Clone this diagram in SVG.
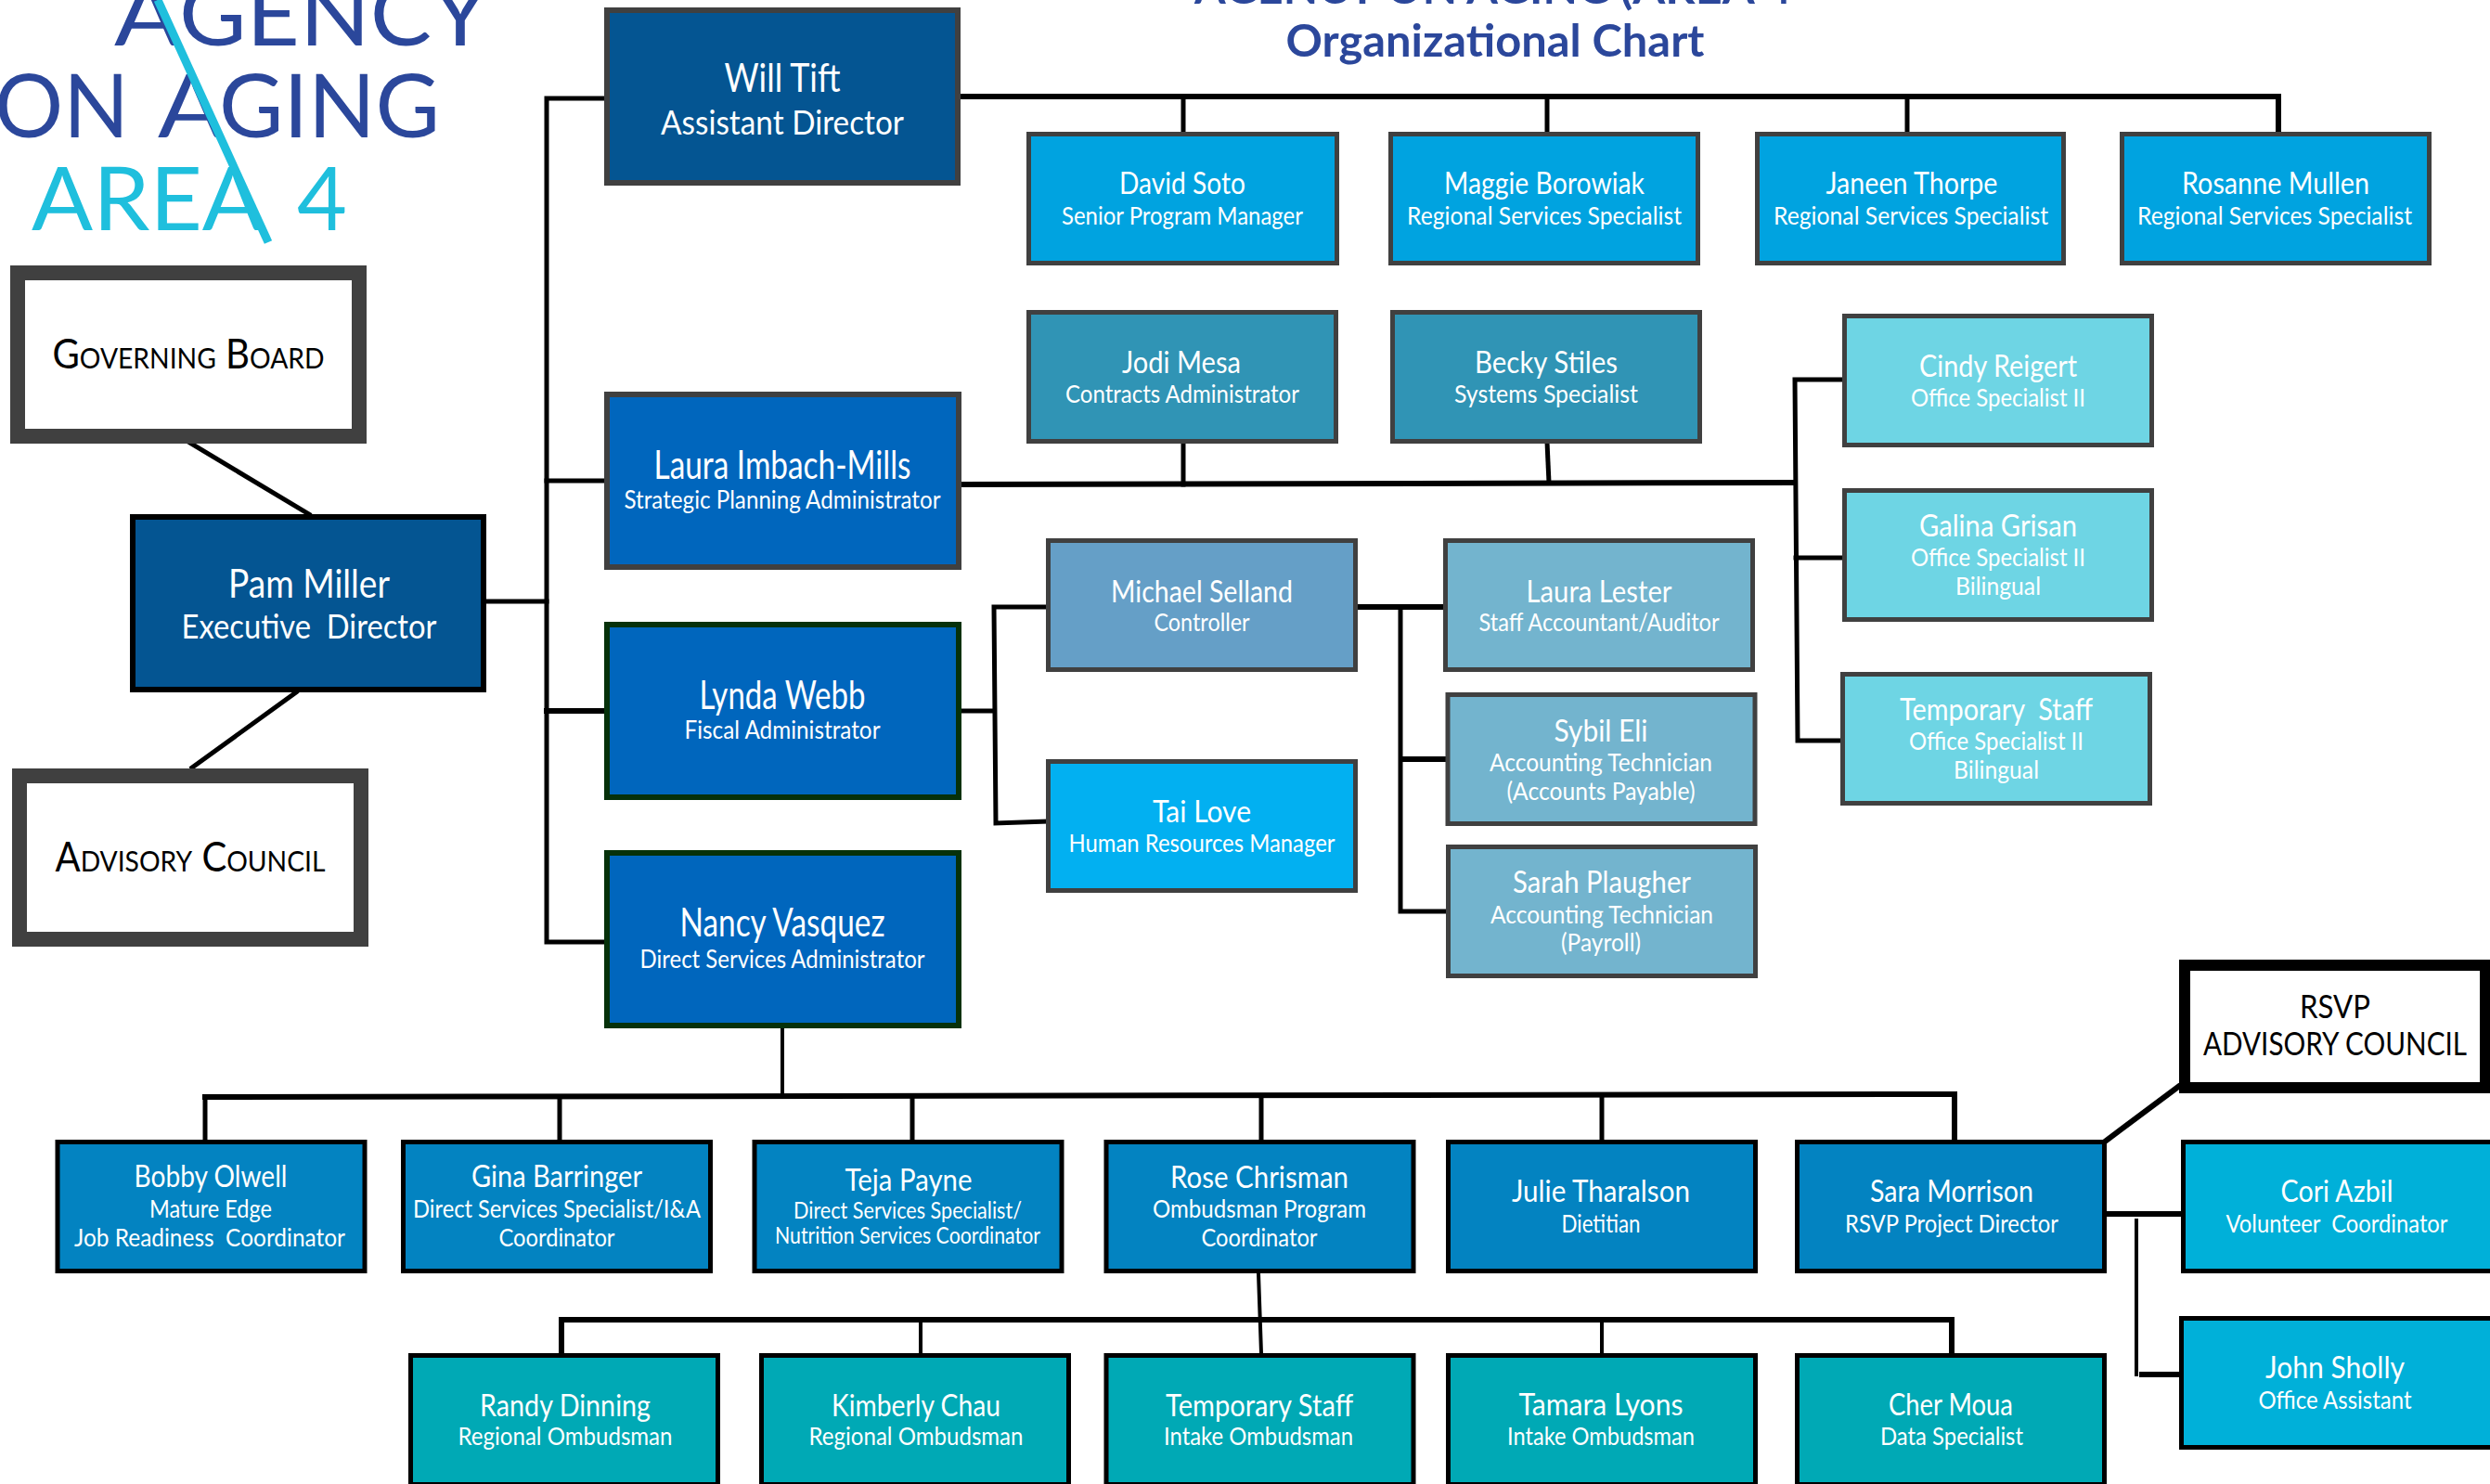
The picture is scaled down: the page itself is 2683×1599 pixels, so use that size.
<svg xmlns="http://www.w3.org/2000/svg" width="2683" height="1599" viewBox="0 0 2683 1599">
<style>
text{font-family:Lato,"Open Sans","Liberation Sans",sans-serif;text-anchor:middle;fill:#fff;white-space:pre}
.n{font-size:33px}.s{font-size:26.500px}.ss{font-size:25px}
.N{font-size:43px}.S{font-size:36px}.S2{font-size:27px}
.k{fill:#000}
.sc{font-size:44px;font-variant:small-caps}
.rs{font-size:34px}
.title{font-size:48px;font-weight:700;fill:#2b479b}
.lg{font-size:95px;text-anchor:start}
.b{fill:#2b479b}.c{fill:#1fbfdd}
.g6{stroke:#404040;stroke-width:6}
.g5{stroke:#404040;stroke-width:5}
.d6{stroke:#06310a;stroke-width:6}
.k6{stroke:#000;stroke-width:6}
.k5{stroke:#000;stroke-width:5}
.wb{fill:#fff;stroke:#404040;stroke-width:16}
.f1{fill:#045592}.f2{fill:#0066bd}.f3{fill:#00a3e0}.f4{fill:#3094b5}.f5{fill:#6ed5e4}.f6{fill:#659fc7}.f7{fill:#02b0f1}.f8{fill:#73b4ce}.f9{fill:#0383c1}.f10{fill:#00a9b5}.f11{fill:#00b0d9}
#connectors path{fill:none;stroke:#000;stroke-width:5;stroke-linecap:square}
#connectors path.t{stroke-width:6}
#connectors path.th{stroke-width:4}
</style>
<defs><clipPath id="leftOfSlash"><path d="M0 -10H165L289 261H-10V-10Z"/></clipPath></defs>

<g id="logo">
<g clip-path="url(#leftOfSlash)">
<text class="lg b" x="123" y="49" textLength="72" lengthAdjust="spacingAndGlyphs">A</text>
<text class="lg b" x="170" y="148" textLength="72" lengthAdjust="spacingAndGlyphs">A</text>
</g>
<text class="lg b" x="193" y="49" textLength="334" lengthAdjust="spacingAndGlyphs">GENCY</text>
<text class="lg b" x="-6" y="148" textLength="145" lengthAdjust="spacingAndGlyphs">ON</text>
<text class="lg b" x="236" y="148" textLength="238" lengthAdjust="spacingAndGlyphs">GING</text>
<text class="lg c" x="34" y="248" textLength="250" lengthAdjust="spacingAndGlyphs">AREA</text>
<text class="lg c" x="320" y="248" textLength="54" lengthAdjust="spacingAndGlyphs">4</text>
<path d="M170 0L289 261" fill="none" stroke="#1fbfdd" stroke-width="9"/>
</g>

<g id="title">
<text class="title" x="1511" y="4" textLength="448" lengthAdjust="spacingAndGlyphs">AGENCY ON AGING</text>
<text class="title" x="1838" y="4" textLength="185" lengthAdjust="spacingAndGlyphs">(AREA 4</text>
<text class="title" x="1611" y="61" textLength="451" lengthAdjust="spacingAndGlyphs">Organizational Chart</text>
</g>

<g id="connectors">
<path d="M201 475L333 554"/>
<path d="M319 746L207 827"/>
<path d="M524 648H589"/>
<path d="M650 106H589V1015H650"/>
<path d="M589 518H650"/>
<path class="t" d="M589 766H650"/>
<path class="t" d="M1032 104H2455V142"/>
<path d="M1275 108V142"/>
<path d="M1667 108V142"/>
<path d="M2055 108V142"/>
<path class="t" d="M1036 522L1934 520"/>
<path d="M1275 478V522"/>
<path d="M1667 476L1669 520"/>
<path d="M1985 409H1934L1937 798H1983"/>
<path d="M1935 601H1985"/>
<path d="M1036 766H1071"/>
<path d="M1127 654H1071L1073 887L1127 885"/>
<path class="t" d="M1463 654H1555"/>
<path d="M1509 654V982H1558"/>
<path class="t" d="M1513 818H1557"/>
<path class="th" d="M843 1108V1180"/>
<path class="t" d="M221 1182L2106 1179V1228"/>
<path d="M221 1182V1228"/>
<path d="M603 1182V1228"/>
<path d="M983 1181V1228"/>
<path d="M1359 1181V1228"/>
<path d="M1726 1180V1228"/>
<path class="th" d="M1356 1372L1359 1458"/>
<path class="t" d="M605 1458V1422H2103V1458"/>
<path class="th" d="M992 1422V1458"/>
<path class="th" d="M1726 1422V1458"/>
<path class="t" d="M2347 1171L2268 1230"/>
<path class="t" d="M2270 1308H2350"/>
<path class="th" d="M2302 1315V1481"/>
<path class="t" d="M2308 1481H2348"/>
</g>

<g id="governing-board"><rect class="wb" x="19" y="294" width="368" height="176"/>
<text class="sc k" x="203" y="397" textLength="293" lengthAdjust="spacingAndGlyphs">Governing Board</text></g>
<g id="advisory-council"><rect class="wb" x="21" y="836" width="368" height="176"/>
<text class="sc k" x="205" y="939" textLength="291" lengthAdjust="spacingAndGlyphs">Advisory Council</text></g>

<g id="pam-miller"><rect class="f1 k6" x="143" y="557" width="378" height="186"/>
<text class="N" x="333" y="644" textLength="174" lengthAdjust="spacingAndGlyphs">Pam Miller</text>
<text class="S" x="333" y="688" textLength="275" lengthAdjust="spacingAndGlyphs">Executive  Director</text></g>

<g id="will-tift"><rect class="f1 g6" x="654" y="11" width="378" height="186"/>
<text class="N" x="843" y="99" textLength="125" lengthAdjust="spacingAndGlyphs">Will Tift</text>
<text class="S" x="843" y="145" textLength="262" lengthAdjust="spacingAndGlyphs">Assistant Director</text></g>
<g id="laura-imbach-mills"><rect class="f2 g6" x="654" y="425" width="379" height="186"/>
<text class="N" x="843" y="516" textLength="277" lengthAdjust="spacingAndGlyphs">Laura Imbach-Mills</text>
<text class="S2" x="843" y="548" textLength="341" lengthAdjust="spacingAndGlyphs">Strategic Planning Administrator</text></g>
<g id="lynda-webb"><rect class="f2 d6" x="654" y="673" width="379" height="186"/>
<text class="N" x="843" y="764" textLength="179" lengthAdjust="spacingAndGlyphs">Lynda Webb</text>
<text class="S2" x="843" y="796" textLength="211" lengthAdjust="spacingAndGlyphs">Fiscal Administrator</text></g>
<g id="nancy-vasquez"><rect class="f2 d6" x="654" y="919" width="379" height="186"/>
<text class="N" x="843" y="1009" textLength="221" lengthAdjust="spacingAndGlyphs">Nancy Vasquez</text>
<text class="S2" x="843" y="1043" textLength="307" lengthAdjust="spacingAndGlyphs">Direct Services Administrator</text></g>

<g id="david-soto"><rect class="f3 g5" x="1108.500" y="144.500" width="332" height="139"/>
<text class="n" x="1274" y="209" textLength="136" lengthAdjust="spacingAndGlyphs">David Soto</text>
<text class="s" x="1274" y="242" textLength="260" lengthAdjust="spacingAndGlyphs">Senior Program Manager</text></g>
<g id="maggie-borowiak"><rect class="f3 g5" x="1498.500" y="144.500" width="331" height="139"/>
<text class="n" x="1664" y="209" textLength="216" lengthAdjust="spacingAndGlyphs">Maggie Borowiak</text>
<text class="s" x="1664" y="242" textLength="296" lengthAdjust="spacingAndGlyphs">Regional Services Specialist</text></g>
<g id="janeen-thorpe"><rect class="f3 g5" x="1893.500" y="144.500" width="330" height="139"/>
<text class="n" x="2060" y="209" textLength="185" lengthAdjust="spacingAndGlyphs">Janeen Thorpe</text>
<text class="s" x="2059" y="242" textLength="296" lengthAdjust="spacingAndGlyphs">Regional Services Specialist</text></g>
<g id="rosanne-mullen"><rect class="f3 g5" x="2286.500" y="144.500" width="331" height="139"/>
<text class="n" x="2452" y="209" textLength="202" lengthAdjust="spacingAndGlyphs">Rosanne Mullen</text>
<text class="s" x="2451" y="242" textLength="296" lengthAdjust="spacingAndGlyphs">Regional Services Specialist</text></g>

<g id="jodi-mesa"><rect class="f4 g5" x="1108.500" y="336.500" width="331" height="139"/>
<text class="n" x="1273" y="402" textLength="128" lengthAdjust="spacingAndGlyphs">Jodi Mesa</text>
<text class="s" x="1274" y="434" textLength="252" lengthAdjust="spacingAndGlyphs">Contracts Administrator</text></g>
<g id="becky-stiles"><rect class="f4 g5" x="1500.500" y="336.500" width="331" height="139"/>
<text class="n" x="1666" y="402" textLength="154" lengthAdjust="spacingAndGlyphs">Becky Stiles</text>
<text class="s" x="1666" y="434" textLength="198" lengthAdjust="spacingAndGlyphs">Systems Specialist</text></g>

<g id="cindy-reigert"><rect class="f5 g5" x="1987.500" y="340.500" width="331" height="139"/>
<text class="n" x="2153" y="406" textLength="170" lengthAdjust="spacingAndGlyphs">Cindy Reigert</text>
<text class="s" x="2153" y="438" textLength="188" lengthAdjust="spacingAndGlyphs">Office Specialist II</text></g>
<g id="galina-grisan"><rect class="f5 g5" x="1987.500" y="528.500" width="331" height="139"/>
<text class="n" x="2153" y="578" textLength="170" lengthAdjust="spacingAndGlyphs">Galina Grisan</text>
<text class="s" x="2153" y="610" textLength="188" lengthAdjust="spacingAndGlyphs">Office Specialist II</text>
<text class="s" x="2153" y="641" textLength="92" lengthAdjust="spacingAndGlyphs">Bilingual</text></g>
<g id="temporary-staff-office"><rect class="f5 g5" x="1985.500" y="726.500" width="331" height="139"/>
<text class="n" x="2151" y="776" textLength="208" lengthAdjust="spacingAndGlyphs">Temporary  Staff</text>
<text class="s" x="2151" y="808" textLength="188" lengthAdjust="spacingAndGlyphs">Office Specialist II</text>
<text class="s" x="2151" y="839" textLength="92" lengthAdjust="spacingAndGlyphs">Bilingual</text></g>

<g id="michael-selland"><rect class="f6 g5" x="1129.500" y="582.500" width="331" height="139"/>
<text class="n" x="1295" y="649" textLength="196" lengthAdjust="spacingAndGlyphs">Michael Selland</text>
<text class="s" x="1295" y="680" textLength="103" lengthAdjust="spacingAndGlyphs">Controller</text></g>
<g id="tai-love"><rect class="f7 g5" x="1129.500" y="820.500" width="331" height="139"/>
<text class="n" x="1295" y="886" textLength="106" lengthAdjust="spacingAndGlyphs">Tai Love</text>
<text class="s" x="1295" y="918" textLength="287" lengthAdjust="spacingAndGlyphs">Human Resources Manager</text></g>
<g id="laura-lester"><rect class="f8 g5" x="1557.500" y="582.500" width="331" height="139"/>
<text class="n" x="1723" y="649" textLength="157" lengthAdjust="spacingAndGlyphs">Laura Lester</text>
<text class="s" x="1723" y="680" textLength="259" lengthAdjust="spacingAndGlyphs">Staff Accountant/Auditor</text></g>
<g id="sybil-eli"><rect class="f8 g5" x="1560" y="748.500" width="331" height="139"/>
<text class="n" x="1725" y="799" textLength="101" lengthAdjust="spacingAndGlyphs">Sybil Eli</text>
<text class="s" x="1725" y="831" textLength="240" lengthAdjust="spacingAndGlyphs">Accounting Technician</text>
<text class="s" x="1725" y="862" textLength="203" lengthAdjust="spacingAndGlyphs">(Accounts Payable)</text></g>
<g id="sarah-plaugher"><rect class="f8 g5" x="1560.500" y="912.500" width="331" height="139"/>
<text class="n" x="1726" y="962" textLength="192" lengthAdjust="spacingAndGlyphs">Sarah Plaugher</text>
<text class="s" x="1726" y="995" textLength="240" lengthAdjust="spacingAndGlyphs">Accounting Technician</text>
<text class="s" x="1725" y="1025" textLength="86" lengthAdjust="spacingAndGlyphs">(Payroll)</text></g>

<g id="bobby-olwell"><rect class="f9 k5" x="62" y="1230.500" width="331" height="139"/>
<text class="n" x="227" y="1279" textLength="165" lengthAdjust="spacingAndGlyphs">Bobby Olwell</text>
<text class="s" x="227" y="1312" textLength="132" lengthAdjust="spacingAndGlyphs">Mature Edge</text>
<text class="s" x="226" y="1343" textLength="292" lengthAdjust="spacingAndGlyphs">Job Readiness  Coordinator</text></g>
<g id="gina-barringer"><rect class="f9 k5" x="434.500" y="1230.500" width="331" height="139"/>
<text class="n" x="600" y="1279" textLength="184" lengthAdjust="spacingAndGlyphs">Gina Barringer</text>
<text class="s" x="600" y="1312" textLength="310" lengthAdjust="spacingAndGlyphs">Direct Services Specialist/I&amp;A</text>
<text class="s" x="600" y="1343" textLength="125" lengthAdjust="spacingAndGlyphs">Coordinator</text></g>
<g id="teja-payne"><rect class="f9 k5" x="813" y="1230.500" width="331" height="139"/>
<text class="n" x="979" y="1283" textLength="137" lengthAdjust="spacingAndGlyphs">Teja Payne</text>
<text class="ss" x="978" y="1313" textLength="246" lengthAdjust="spacingAndGlyphs">Direct Services Specialist/</text>
<text class="ss" x="978" y="1340" textLength="286" lengthAdjust="spacingAndGlyphs">Nutrition Services Coordinator</text></g>
<g id="rose-chrisman"><rect class="f9 k5" x="1192" y="1230.500" width="331" height="139"/>
<text class="n" x="1357" y="1280" textLength="192" lengthAdjust="spacingAndGlyphs">Rose Chrisman</text>
<text class="s" x="1357" y="1312" textLength="230" lengthAdjust="spacingAndGlyphs">Ombudsman Program</text>
<text class="s" x="1357" y="1343" textLength="125" lengthAdjust="spacingAndGlyphs">Coordinator</text></g>
<g id="julie-tharalson"><rect class="f9 k5" x="1560.500" y="1230.500" width="331" height="139"/>
<text class="n" x="1725" y="1295" textLength="192" lengthAdjust="spacingAndGlyphs">Julie Tharalson</text>
<text class="s" x="1725" y="1328" textLength="85" lengthAdjust="spacingAndGlyphs">Dietitian</text></g>
<g id="sara-morrison"><rect class="f9 k5" x="1936.500" y="1230.500" width="331" height="139"/>
<text class="n" x="2103" y="1295" textLength="176" lengthAdjust="spacingAndGlyphs">Sara Morrison</text>
<text class="s" x="2103" y="1328" textLength="230" lengthAdjust="spacingAndGlyphs">RSVP Project Director</text></g>
<g id="cori-azbil"><rect class="f11 k5" x="2352.500" y="1230.500" width="335" height="139"/>
<text class="n" x="2518" y="1295" textLength="121" lengthAdjust="spacingAndGlyphs">Cori Azbil</text>
<text class="s" x="2518" y="1328" textLength="239" lengthAdjust="spacingAndGlyphs">Volunteer  Coordinator</text></g>
<g id="john-sholly"><rect class="f11 k5" x="2350.500" y="1420.500" width="335" height="139"/>
<text class="n" x="2516" y="1485" textLength="150" lengthAdjust="spacingAndGlyphs">John Sholly</text>
<text class="s" x="2516" y="1518" textLength="165" lengthAdjust="spacingAndGlyphs">Office Assistant</text></g>
<g id="rsvp-advisory-council"><rect x="2354" y="1040" width="324" height="132" fill="#fff" stroke="#000" stroke-width="12"/>
<text class="rs k" x="2516" y="1097" textLength="76" lengthAdjust="spacingAndGlyphs">RSVP</text>
<text class="rs k" x="2516" y="1137" textLength="284" lengthAdjust="spacingAndGlyphs">ADVISORY COUNCIL</text></g>

<g id="randy-dinning"><rect class="f10 k5" x="442.500" y="1460.500" width="331" height="139"/>
<text class="n" x="609" y="1526" textLength="184" lengthAdjust="spacingAndGlyphs">Randy Dinning</text>
<text class="s" x="609" y="1557" textLength="231" lengthAdjust="spacingAndGlyphs">Regional Ombudsman</text></g>
<g id="kimberly-chau"><rect class="f10 k5" x="820.500" y="1460.500" width="331" height="139"/>
<text class="n" x="987" y="1526" textLength="182" lengthAdjust="spacingAndGlyphs">Kimberly Chau</text>
<text class="s" x="987" y="1557" textLength="231" lengthAdjust="spacingAndGlyphs">Regional Ombudsman</text></g>
<g id="temporary-staff-intake"><rect class="f10 k5" x="1192" y="1460.500" width="331" height="139"/>
<text class="n" x="1357" y="1526" textLength="202" lengthAdjust="spacingAndGlyphs">Temporary Staff</text>
<text class="s" x="1356" y="1557" textLength="204" lengthAdjust="spacingAndGlyphs">Intake Ombudsman</text></g>
<g id="tamara-lyons"><rect class="f10 k5" x="1560.500" y="1460.500" width="331" height="139"/>
<text class="n" x="1725" y="1525" textLength="177" lengthAdjust="spacingAndGlyphs">Tamara Lyons</text>
<text class="s" x="1725" y="1557" textLength="202" lengthAdjust="spacingAndGlyphs">Intake Ombudsman</text></g>
<g id="cher-moua"><rect class="f10 k5" x="1936.500" y="1460.500" width="331" height="139"/>
<text class="n" x="2102" y="1525" textLength="134" lengthAdjust="spacingAndGlyphs">Cher Moua</text>
<text class="s" x="2103" y="1557" textLength="154" lengthAdjust="spacingAndGlyphs">Data Specialist</text></g>
</svg>
